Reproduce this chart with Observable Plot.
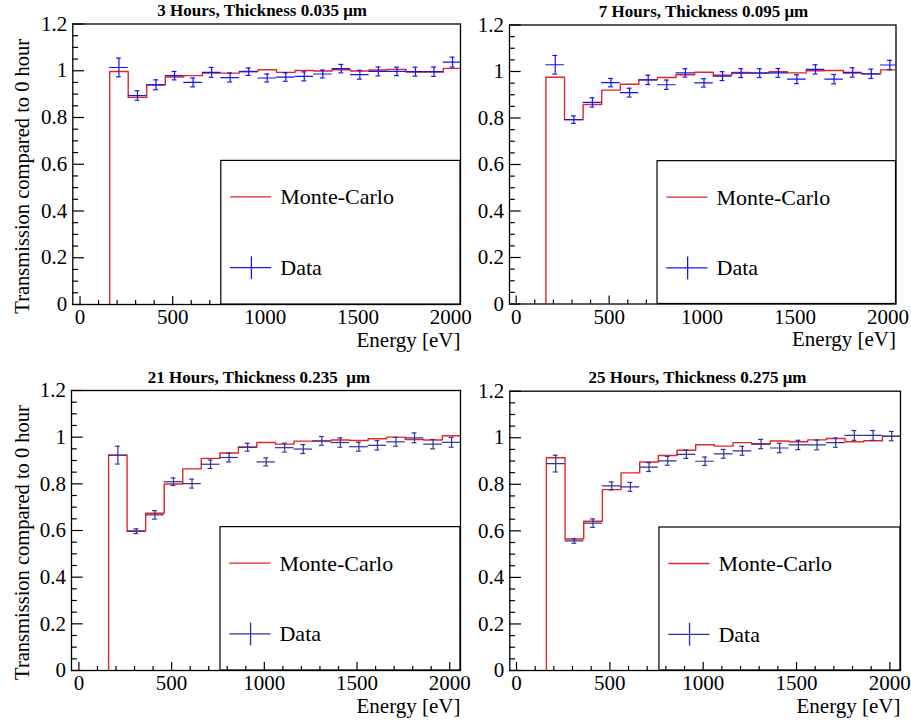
<!DOCTYPE html>
<html>
<head>
<meta charset="utf-8">
<script src="https://cdn.jsdelivr.net/npm/d3@7"></script>
<script src="https://cdn.jsdelivr.net/npm/@observablehq/plot@0.6"></script>
<style>
  body { margin: 0; background: #fff; }
  #wrap { position: relative; width: 911px; height: 723px; overflow: hidden; }
  #wrap svg { position: absolute; overflow: visible; }
  #wrap svg text { font-family: "Liberation Serif", "Times New Roman", serif !important; }
</style>
</head>
<body>
<div id="wrap"></div>
<script>
// ---- data ----
const binCenters = [210, 310, 410, 510, 610, 710, 810, 910, 1010, 1110, 1210, 1310, 1410, 1510, 1610, 1710, 1810, 1910, 2010];
const binWidth = 100;

const mc3h   = [0.997, 0.886, 0.940, 0.973, 0.979, 0.990, 0.990, 0.997, 1.004, 0.993, 1.001, 0.999, 1.004, 0.999, 1.003, 1.006, 0.994, 0.994, 1.010];
const data3h = [1.014, 0.894, 0.940, 0.979, 0.950, 0.993, 0.971, 0.996, 0.969, 0.973, 0.976, 0.986, 1.009, 0.983, 0.997, 0.997, 0.996, 0.996, 1.037];
const err3h  = [0.040, 0.020, 0.021, 0.018, 0.019, 0.021, 0.019, 0.016, 0.017, 0.018, 0.019, 0.017, 0.018, 0.019, 0.019, 0.018, 0.019, 0.020, 0.021];

const mc7h   = [0.975, 0.793, 0.858, 0.920, 0.945, 0.964, 0.974, 0.986, 0.997, 0.984, 0.996, 0.994, 0.999, 0.994, 1.003, 1.004, 0.993, 0.990, 1.007];
const data7h = [1.029, 0.793, 0.867, 0.952, 0.909, 0.964, 0.943, 0.994, 0.951, 0.980, 0.993, 0.993, 0.994, 0.967, 1.009, 0.967, 0.996, 0.990, 1.028];
const err7h  = [0.040, 0.016, 0.020, 0.018, 0.019, 0.020, 0.020, 0.018, 0.018, 0.019, 0.019, 0.019, 0.019, 0.019, 0.020, 0.020, 0.020, 0.020, 0.020];

const mc21h   = [0.923, 0.598, 0.674, 0.799, 0.864, 0.909, 0.932, 0.957, 0.977, 0.970, 0.983, 0.983, 0.988, 0.986, 0.993, 1.000, 0.990, 0.988, 1.006];
const data21h = [0.923, 0.597, 0.667, 0.809, 0.801, 0.884, 0.913, 0.957, 0.894, 0.955, 0.949, 0.984, 0.977, 0.959, 0.965, 0.980, 0.997, 0.970, 0.978];
const err21h  = [0.038, 0.010, 0.018, 0.016, 0.019, 0.018, 0.019, 0.017, 0.017, 0.019, 0.019, 0.019, 0.020, 0.019, 0.020, 0.019, 0.021, 0.020, 0.021];

const mc25h   = [0.914, 0.565, 0.641, 0.777, 0.849, 0.896, 0.924, 0.946, 0.970, 0.964, 0.979, 0.974, 0.986, 0.983, 0.991, 0.997, 0.983, 0.987, 1.006];
const data25h = [0.889, 0.557, 0.633, 0.793, 0.789, 0.874, 0.901, 0.929, 0.899, 0.931, 0.944, 0.973, 0.956, 0.969, 0.969, 0.979, 1.010, 1.010, 1.007];
const err25h  = [0.036, 0.010, 0.018, 0.017, 0.019, 0.019, 0.019, 0.018, 0.018, 0.019, 0.019, 0.020, 0.020, 0.020, 0.021, 0.020, 0.021, 0.021, 0.020];

const titles = ["3 Hours, Thickness 0.035 \u03bcm", "7 Hours, Thickness 0.095 \u03bcm", "21 Hours, Thickness 0.235  \u03bcm", "25 Hours, Thickness 0.275 \u03bcm"];
const xMajor = [0, 500, 1000, 1500, 2000];
const xMinor = [100, 200, 300, 400, 600, 700, 800, 900, 1100, 1200, 1300, 1400, 1600, 1700, 1800, 1900];
const yMajor = [0, 0.2, 0.4, 0.6, 0.8, 1, 1.2];
const yMinor = [0.05, 0.1, 0.15, 0.25, 0.3, 0.35, 0.45, 0.5, 0.55, 0.65, 0.7, 0.75, 0.85, 0.9, 0.95, 1.05, 1.1, 1.15];
const yTitle = "Transmission compared to 0 hour";
const xTitle = "Energy [eV]";
const legendLabels = ["Monte-Carlo", "Data"];

// ---- styling / layout ----
const SERIF = "Liberation Serif, Times New Roman, serif";
const RED = "#e32626";
const capHalf = 13;

const panels = [
  {mc: mc3h, data: data3h, err: err3h, title: titles[0], color: "#1414f0",
   left: 0, top: 0, width: 470, height: 362, fL: 72.3, fR: 460, fT: 23.5, fB: 304,
   domain: [-39, 2053], ylab: true, titleDx: -4.5, titleY: 15.7, legendFill: "white"},
  {mc: mc7h, data: data7h, err: err7h, title: titles[1], color: "#1414f0",
   left: 455, top: 0, width: 456, height: 362, fL: 509, fR: 895.5, fT: 24.5, fB: 303.5,
   domain: [-36, 2043], ylab: false, titleDx: 0.7, titleY: 16.5, legendFill: "white"},
  {mc: mc21h, data: data21h, err: err21h, title: titles[2], color: "#30309c",
   left: 0, top: 362, width: 470, height: 361, fL: 71, fR: 460, fT: 390, fB: 670,
   domain: [-40, 2058], ylab: true, titleDx: -7, titleY: 382, legendFill: "none"},
  {mc: mc25h, data: data25h, err: err25h, title: titles[3], color: "#30309c",
   left: 455, top: 362, width: 456, height: 361, fL: 509.3, fR: 900, fT: 390.7, fB: 670,
   domain: [-36, 2057], ylab: false, titleDx: -7.7, titleY: 382, legendFill: "none"}
];

const wrap = document.getElementById("wrap");

for (const p of panels) {
  const rows = binCenters.map((c, i) => ({
    c, lo: c - binWidth / 2, hi: c + binWidth / 2, v: p.data[i], e: p.err[i], m: p.mc[i]
  }));
  const n = rows.length;
  const step = [{x: rows[0].lo, y: 0}, ...rows.map(r => ({x: r.lo, y: r.m})), {x: rows[n - 1].hi, y: rows[n - 1].m}];

  const fig = Plot.plot({
    width: p.width,
    height: p.height,
    marginLeft: p.fL - p.left,
    marginRight: p.left + p.width - p.fR,
    marginTop: p.fT - p.top,
    marginBottom: p.top + p.height - p.fB,
    x: {domain: p.domain, label: null},
    y: {domain: [0, 1.2], label: null},
    style: {fontFamily: SERIF, fontSize: "21px", color: "black", background: "transparent", overflow: "visible"},
    marks: [
      Plot.line(step, {x: "x", y: "y", curve: "step-after", stroke: RED, strokeWidth: 1.4, clip: true}),
      Plot.ruleY(rows, {x1: "lo", x2: "hi", y: "v", stroke: p.color, strokeWidth: 1.2, clip: true}),
      Plot.ruleX(rows, {x: "c", y1: d => d.v - d.e, y2: d => d.v + d.e, stroke: p.color, strokeWidth: 1.2}),
      Plot.ruleY(rows, {x1: d => d.c - capHalf, x2: d => d.c + capHalf, y: d => d.v + d.e, stroke: p.color, strokeWidth: 1.2}),
      Plot.ruleY(rows, {x1: d => d.c - capHalf, x2: d => d.c + capHalf, y: d => d.v - d.e, stroke: p.color, strokeWidth: 1.2}),
      Plot.axisX(xMajor, {tickSize: 0, tickPadding: 5, tickFormat: d => String(d), fontSize: 21, label: null}),
      Plot.axisX(xMajor, {tickSize: -8, tickFormat: () => "", strokeWidth: 1.2, label: null}),
      Plot.axisX(xMinor, {tickSize: -4, tickFormat: () => "", strokeWidth: 1.2, label: null}),
      Plot.axisY(yMajor, {tickSize: 0, tickPadding: 5.6, tickFormat: d => String(+d.toFixed(2)), fontSize: 21, label: null}),
      Plot.axisY(yMajor, {tickSize: -11.7, tickFormat: () => "", strokeWidth: 1.2, label: null}),
      Plot.axisY(yMinor, {tickSize: -5.8, tickFormat: () => "", strokeWidth: 1.2, label: null}),
      Plot.frame({stroke: "black", strokeWidth: 1.3}),
      Plot.text([p.title], {text: d => d, frameAnchor: "top", dx: p.titleDx, dy: p.titleY - p.fT, lineAnchor: "bottom", fontWeight: "bold", fontSize: 17}),
      Plot.text([xTitle], {text: d => d, frameAnchor: "bottom-right", textAnchor: "end", lineAnchor: "bottom", dy: 42, fontSize: 21}),
      p.ylab ? Plot.text([yTitle], {text: d => d, frameAnchor: "left", textAnchor: "middle", lineAnchor: "middle", rotate: -90, dx: 22 - p.fL, dy: 12, fontSize: 20.5}) : null
    ]
  });

  fig.style.left = p.left + "px";
  fig.style.top = p.top + "px";

  // legend box (ROOT TLegend), positioned relative to the frame
  const svg = d3.select(fig);
  const fw = p.fR - p.fL, fh = p.fB - p.fT;
  const lx = p.fL - p.left + 0.383 * fw;
  const ly = p.fT - p.top + 0.488 * fh;
  const rx = p.fR - p.left, by = p.fB - p.top;
  const g = svg.append("g").attr("text-anchor", "start");
  g.append("rect").attr("x", lx).attr("y", ly).attr("width", rx - lx).attr("height", by - ly)
    .attr("fill", p.legendFill).attr("stroke", "black").attr("stroke-width", 1.2);
  const mcY = ly + 36.5, dY = ly + 107.3;
  g.append("line").attr("x1", lx + 9.3).attr("x2", lx + 50.5).attr("y1", mcY).attr("y2", mcY)
    .attr("stroke", RED).attr("stroke-width", 1.4);
  g.append("text").attr("x", lx + 59.5).attr("y", mcY).attr("dy", "0.34em").attr("font-size", 22)
    .attr("text-anchor", "start").text(legendLabels[0]);
  g.append("line").attr("x1", lx + 9.3).attr("x2", lx + 50.5).attr("y1", dY).attr("y2", dY)
    .attr("stroke", p.color).attr("stroke-width", 1.3);
  g.append("line").attr("x1", lx + 30.6).attr("x2", lx + 30.6).attr("y1", dY - 11.4).attr("y2", dY + 11.4)
    .attr("stroke", p.color).attr("stroke-width", 1.3);
  g.append("text").attr("x", lx + 59.5).attr("y", dY).attr("dy", "0.34em").attr("font-size", 22)
    .attr("text-anchor", "start").text(legendLabels[1]);

  wrap.appendChild(fig);
}
</script>
</body>
</html>
